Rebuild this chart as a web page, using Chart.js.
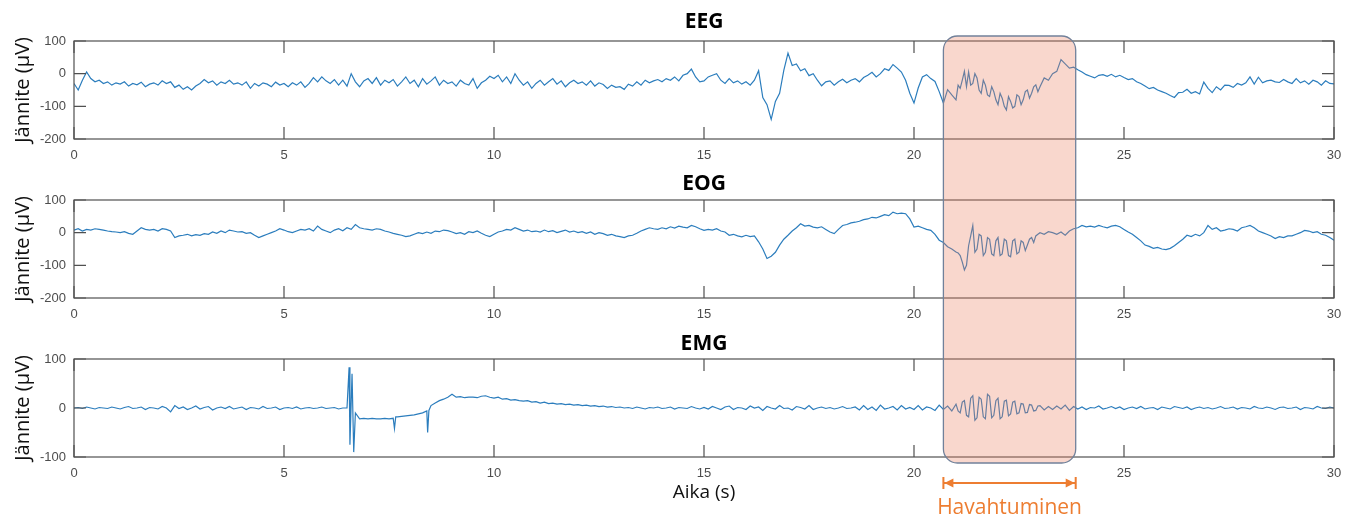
<!DOCTYPE html>
<html>
<head>
<meta charset="utf-8">
<script src="https://cdn.jsdelivr.net/npm/chart.js@4.4.1/dist/chart.umd.min.js"></script>
<style>
	body { margin: 0; background: #fff; }
	#wrap { position: relative; width: 1355px; height: 522px; overflow: hidden; }
	#wrap canvas { position: absolute; left: 0; }
	#overlay { top: 0; pointer-events: none; }
</style>
</head>
<body>
<div id="wrap">
	<canvas id="eegChart" width="1355" height="161" style="top:0px"></canvas>
	<canvas id="eogChart" width="1355" height="161" style="top:159px"></canvas>
	<canvas id="emgChart" width="1355" height="204" style="top:318px"></canvas>
	<canvas id="overlay" width="1355" height="522"></canvas>
</div>
<script>
// seconds between samples
const sampleStep = 0.1;
const timeTicks = [0, 5, 10, 15, 20, 25, 30];

// EEG, µV, one value every 0.1 s from 0 to 30 s
const eegValues = [
	-30, -50, -20, 5, -15, -25, -20, -30, -25, -35,
	-28, -32, -25, -38, -30, -34, -26, -40, -32, -28,
	-35, -22, -30, -25, -42, -35, -48, -40, -50, -38,
	-30, -18, -28, -22, -35, -25, -30, -20, -32, -28,
	-35, -25, -45, -30, -38, -28, -32, -40, -26, -35,
	-30, -40, -28, -35, -25, -42, -30, -12, -25, -10,
	-22, -30, -18, -35, -20, -38, 0, -25, -40, -22,
	-15, -30, -12, -35, -20, -28, -18, -38, -25, -10,
	-30, -20, -40, -15, -32, -22, -10, -35, -20, -30,
	-25, -38, -20, -30, -35, -15, -45, -28, -20, -8,
	-15, -5, -25, -10, -30, 0, -20, -35, -25, -45,
	-30, -20, -35, -25, -15, -32, -22, -40, -28, -20,
	-30, -25, -35, -22, -38, -28, -33, -45, -35, -42,
	-40, -48, -32, -38, -25, -35, -20, -28, -22, -18,
	-25, -15, -20, -10, -22, -5, 0, 14, -10, -25,
	-22, -10, -5, 0, -20, -30, -15, -28, -22, -32,
	-25, -35, -20, 9, -73, -95, -140, -85, -60, 10,
	63, 25, 30, 9, 15, -6, 0, -20, -37, -25,
	-22, -35, -25, -17, -28, -20, -15, -25, -12, -5,
	4, -10, 0, 15, 10, 28, 17, 5, -20, -60,
	-90, -44, -10, -3, -15, -24, -55, -90, -49, -65,
	-80, -45, 7, 5, -30, -13, -60, -35, -70, -55,
	-95, -75, -111, -85, -100, -70, -80, -50, -60, -34,
	-40, -13, -20, 0, 7, 43, 30, 17, 20, 12,
	5, -3, -8, -13, -5, -3, -8, -2, -10, -5,
	-12, -18, -15, -25, -30, -38, -46, -42, -50, -55,
	-60, -67, -73, -58, -57, -48, -60, -55, -62, -26,
	-45, -58, -40, -50, -35, -36, -42, -30, -35, -28,
	-10, -32, -11, -28, -22, -20, -25, -27, -18, -25,
	-30, -15, -28, -22, -32, -20, -25, -35, -22, -30,
	-31
];

// EOG, µV, same sampling
const eogValues = [
	8, 12, 5, 10, 8, 12, 10, 8, 5, 3,
	2, 0, 3, -2, -5, 5, 15, 10, 8, 10,
	5, 12, 10, 5, -15, -10, -8, -5, -10, -6,
	-8, -3, -5, 2, -2, 5, 0, 8, 5, 2,
	3, -2, 0, -8, -15, -10, -5, 0, 5, 12,
	8, 3, 0, 5, 10, 8, 12, 5, 20, 10,
	5, 0, 8, 12, 6, 15, 10, 25, 15, 12,
	10, 8, 12, 10, 5, 2, -2, -5, -8, -12,
	-10, -5, 0, -3, 2, -2, 5, 3, 8, 6,
	2, -3, 0, -5, 3, 0, 5, -2, -8, -12,
	-5, 2, 5, 10, 8, 15, 10, 5, 8, 3,
	5, 2, 8, 3, 6, 0, 4, 8, 2, 5,
	0, 3, -2, 2, -5, 0, -3, -8, -5, -10,
	-12, -15, -10, -8, -2, 5, 10, 15, 12, 10,
	15, 12, 18, 14, 20, 17, 15, 22, 18, 12,
	7, 10, 8, 12, 5, 2, -8, -5, -10, -13,
	-8, -12, -10, -28, -50, -79, -72, -60, -38, -20,
	-8, 5, 15, 27, 20, 22, 17, 15, 18, 10,
	2, -3, 10, 22, 25, 30, 32, 35, 40, 42,
	47, 45, 50, 55, 52, 63, 58, 60, 58, 42,
	17, 20, 15, 10, 7, -5, -23, -30, -43, -50,
	-59, -70, -114, -40, 22, -50, -10, -60, -20, -70,
	-15, -65, -25, -74, -20, -60, -30, -38, -15, -10,
	0, -5, 3, 0, -5, 2, -8, 5, 12, 15,
	22, 18, 20, 17, 22, 18, 15, 20, 22, 18,
	10, 2, -5, -15, -25, -38, -42, -48, -45, -50,
	-52, -48, -40, -30, -20, -8, -12, -5, -10, 0,
	22, 10, 15, 5, 8, 12, 10, 5, 15, 18,
	22, 15, 5, 0, -5, -10, -18, -12, -15, -10,
	-10, -5, 0, 7, 5, 0, 3, -5, -8, -15,
	-23
];

// EMG, µV, same sampling
const emgValues = [
	0, 1, -1, 2, 0, -2, 1, 0, -1, 2,
	0, -2, 1, 3, -1, 0, 2, -3, 1, 0,
	-2, 3, 0, -8, 5, -1, 2, -3, 0, 4,
	-2, 1, 3, -4, 0, 2, -1, 3, -2, 0,
	2, -3, 1, 0, -2, 3, -1, 0, 2, -3,
	0, 1, -1, 2, -2, 0, 1, -1, 0, 2,
	-1, 0, 1, -2, 0, 0, 12, -10, -22, -21,
	-22, -21, -22, -22, -21, -22, -21, -18, -17, -16,
	-15, -14, -12, -10, -6, 5, 10, 15, 18, 22,
	28, 22, 23, 21, 22, 22, 21, 24, 25, 22,
	20, 22, 18, 19, 16, 17, 15, 14, 15, 12,
	13, 10, 12, 9, 10, 8, 9, 7, 8, 6,
	7, 5, 6, 4, 5, 3, 4, 2, 3, 1,
	2, 0, 1, -1, 2, 0, -2, 1, 0, 2,
	-1, 0, 2, -2, 1, 0, -1, 3, 0, -2,
	1, -2, 3, 0, -3, 2, 4, -3, 1, 0,
	-3, 4, 0, 2, -5, 3, 0, -2, 5, -1,
	0, -4, 3, 1, -2, 5, -3, 0, 2, -1,
	1, -2, 0, 3, -1, 0, 2, -4, 5, -3,
	2, -5, 6, -2, 0, 3, -4, 5, -2, 1,
	-3, 5, -4, 2, 0, -5, 6, -3, 4, -6,
	8, -10, 15, -18, 25, -20, 18, -22, 24, -15,
	20, -18, 16, -12, 14, -10, 8, -9, 6, -5,
	5, -4, 3, -3, 4, -2, 6, -5, 3, -2,
	2, -3, 1, 0, 4, -2, 0, 3, -1, 2,
	-3, 0, 2, -1, 3, -2, 0, 1, -3, 2,
	0, -2, 3, 1, -1, 2, -3, 0, 2, -1,
	1, -2, 0, 3, -1, 0, 2, -2, 1, 0,
	-2, 3, 0, -1, 2, 0, -3, 1, 2, -1,
	0, 2, -3, 1, 0, -2, 3, 0, -1, 2,
	0
];

// extra samples in the dense arousal part (between the regular ones)
const arousalExtraTime = [21.05, 21.15, 21.25, 21.35, 21.45, 21.55, 21.65, 21.75, 21.85, 21.95,
	22.05, 22.15, 22.25, 22.35, 22.45, 22.55, 22.65, 22.75, 22.85, 22.95];
const eegExtraValue = [-35, -20, -40, -35, 0, -50, -20, -65, -40, -80,
	-60, -100, -70, -105, -65, -95, -55, -75, -40, -55];
const eogExtraValue = [-62, -90, -100, -10, -60, -5, -70, -15, -65, -25,
	-70, -20, -70, -25, -65, -25, -55, -20, -30, -5];
const emgExtraValue = [-6, 12, -15, 20, -25, 22, -18, 28, -20, 15,
	-22, 14, -16, 12, -12, 9, -10, 7, -6, 4];

// short EMG artefact spikes
const emgSpikeTime = [6.55, 6.57, 6.62, 6.66, 7.63, 7.66, 8.42, 8.45];
const emgSpikeValue = [83, -75, 70, -90, -42, -18, -50, -5];

// arousal window (s)
const arousalStart = 20.7;
const arousalEnd = 23.85;
const arousalLabel = 'Havahtuminen';

const lineColor = '#2b7dbd';
const frameColor = '#505050';
const orange = '#ED7D31';

function toPoints(values, extraTimes, extraValues) {
	let pts = values.map((v, i) => ({ x: Math.round(i * sampleStep * 100) / 100, y: v }));
	extraTimes.forEach((t, i) => pts.push({ x: t, y: extraValues[i] }));
	return pts.sort((a, b) => a.x - b.x);
}

const eegPoints = toPoints(eegValues, arousalExtraTime, eegExtraValue);
const eogPoints = toPoints(eogValues, arousalExtraTime, eogExtraValue);
const emgPoints = toPoints(emgValues, arousalExtraTime.concat(emgSpikeTime), emgExtraValue.concat(emgSpikeValue));

// MATLAB style box with inward ticks + panel title
const framePlugin = {
	id: 'frame',
	afterDraw(chart, args, opts) {
		const { ctx, chartArea: a, scales } = chart;
		const tick = 12;
		ctx.save();
		ctx.strokeStyle = frameColor;
		ctx.lineWidth = 1.2;
		ctx.strokeRect(a.left, a.top, a.right - a.left, a.bottom - a.top);
		ctx.beginPath();
		scales.x.ticks.forEach(t => {
			const px = scales.x.getPixelForValue(t.value);
			ctx.moveTo(px, a.bottom); ctx.lineTo(px, a.bottom - tick);
			ctx.moveTo(px, a.top); ctx.lineTo(px, a.top + tick);
		});
		scales.y.ticks.forEach(t => {
			const py = scales.y.getPixelForValue(t.value);
			ctx.moveTo(a.left, py); ctx.lineTo(a.left + tick, py);
			ctx.moveTo(a.right, py); ctx.lineTo(a.right - tick, py);
		});
		ctx.stroke();
		ctx.fillStyle = '#000';
		ctx.font = 'bold 21px "Open Sans"';
		ctx.textAlign = 'center';
		ctx.textBaseline = 'middle';
		ctx.fillText(opts.title, (a.left + a.right) / 2, a.top - opts.gap);
		ctx.restore();
	}
};

function makeChart(canvasId, data, yMin, yMax, title, gap, xTitle) {
	const xHeight = xTitle ? 65 : 22;
	return new Chart(document.getElementById(canvasId), {
		type: 'line',
		data: {
			datasets: [{
				data: data,
				borderColor: lineColor,
				borderWidth: 1.2,
				pointRadius: 0,
				tension: 0
			}]
		},
		options: {
			responsive: false,
			animation: false,
			events: [],
			layout: { padding: { top: 41, right: 21, left: 0, bottom: 0 } },
			plugins: {
				legend: { display: false },
				tooltip: { enabled: false },
				frame: { title: title, gap: gap }
			},
			scales: {
				x: {
					type: 'linear',
					min: 0,
					max: 30,
					afterBuildTicks: s => { s.ticks = timeTicks.map(v => ({ value: v })); },
					ticks: { padding: 9, color: '#4d4d4d', font: { family: '"Liberation Sans"', size: 13 } },
					grid: { display: false, drawTicks: false },
					border: { display: false },
					title: {
						display: !!xTitle,
						text: xTitle,
						color: '#111',
						font: { family: '"Open Sans"', size: 19 },
						padding: { top: 0, bottom: 18 }
					},
					afterFit: s => { s.height = xHeight; }
				},
				y: {
					min: yMin,
					max: yMax,
					ticks: { stepSize: 100, padding: 8, color: '#4d4d4d', font: { family: '"Liberation Sans"', size: 13 } },
					grid: { display: false, drawTicks: false },
					border: { display: false },
					title: {
						display: true,
						text: 'Jännite (µV)',
						color: '#111',
						font: { family: '"Open Sans"', size: 20 },
						padding: { top: 11, bottom: 0 }
					},
					afterFit: s => { s.width = 74; }
				}
			}
		},
		plugins: [framePlugin]
	});
}

const eegChart = makeChart('eegChart', eegPoints, -200, 100, 'EEG', 19, null);
const eogChart = makeChart('eogChart', eogPoints, -200, 100, 'EOG', 16, null);
const emgChart = makeChart('emgChart', emgPoints, -100, 100, 'EMG', 15, 'Aika (s)');

// arousal highlight across all three panels
function drawArousal() {
	const ov = document.getElementById('overlay');
	const ctx = ov.getContext('2d');
	const emgTop = emgChart.canvas.offsetTop;
	const x0 = eegChart.scales.x.getPixelForValue(arousalStart);
	const x1 = eegChart.scales.x.getPixelForValue(arousalEnd);
	const y0 = eegChart.chartArea.top - 5;
	const y1 = emgTop + emgChart.chartArea.bottom + 6;
	ctx.save();
	ctx.beginPath();
	ctx.roundRect(x0, y0, x1 - x0, y1 - y0, 14);
	ctx.fillStyle = 'rgba(235, 130, 100, 0.32)';
	ctx.fill();
	ctx.strokeStyle = '#71819a';
	ctx.lineWidth = 1.3;
	ctx.stroke();

	const ay = y1 + 20;
	ctx.strokeStyle = orange;
	ctx.fillStyle = orange;
	ctx.lineWidth = 2;
	ctx.beginPath();
	ctx.moveTo(x0, ay); ctx.lineTo(x1, ay);
	ctx.moveTo(x0, ay - 6); ctx.lineTo(x0, ay + 6);
	ctx.moveTo(x1, ay - 6); ctx.lineTo(x1, ay + 6);
	ctx.stroke();
	ctx.beginPath();
	ctx.moveTo(x0 + 1, ay); ctx.lineTo(x0 + 10, ay - 4.5); ctx.lineTo(x0 + 10, ay + 4.5); ctx.closePath();
	ctx.moveTo(x1 - 1, ay); ctx.lineTo(x1 - 10, ay - 4.5); ctx.lineTo(x1 - 10, ay + 4.5); ctx.closePath();
	ctx.fill();

	ctx.font = '21px "Open Sans"';
	ctx.textAlign = 'center';
	ctx.textBaseline = 'middle';
	ctx.fillText(arousalLabel, (x0 + x1) / 2, ay + 25);
	ctx.restore();
}
drawArousal();
</script>
</body>
</html>
